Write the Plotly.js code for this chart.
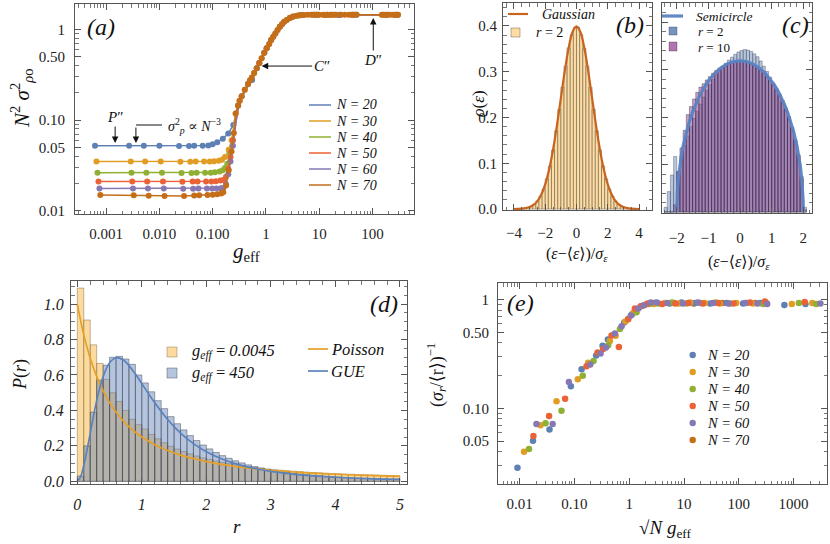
<!DOCTYPE html>
<html><head><meta charset="utf-8">
<script src="https://cdn.plot.ly/plotly-3.0.1.min.js"></script>
<style>html,body{margin:0;padding:0;background:#fff}#plot{width:830px;height:544px}</style>
</head><body><div id="plot"></div>
<script>
// ---------------- DATA ----------------
// (a) N^2 sigma^2 vs g_eff
const a20x = [0.00062,0.0027,0.0051,0.0100,0.0234,0.036,0.045,0.065,0.083,0.100,0.122,0.155,0.196,0.244,0.35,0.55,0.75,1.03,1.5,2.2,3.25,5.0,8.0,14,24,45,160,290];
const a20y = [0.052,0.052,0.052,0.052,0.0518,0.0518,0.052,0.052,0.0525,0.054,0.057,0.062,0.071,0.088,0.183,0.276,0.425,0.62,0.90,1.21,1.38,1.44,1.445,1.445,1.44,1.445,1.445,1.44];
const a30x = [0.00066,0.0029,0.0054,0.0106,0.0248,0.038,0.048,0.069,0.088,0.106,0.130,0.150,0.170,0.200,0.226,0.27,0.40,0.60,0.83,1.15,1.65,2.45,3.8,7.5,12,20,40,150,270];
const a30y = [0.0348,0.0348,0.0348,0.0348,0.0347,0.0347,0.0348,0.0348,0.035,0.0352,0.0356,0.0365,0.039,0.047,0.060,0.118,0.215,0.33,0.48,0.69,0.98,1.27,1.415,1.445,1.44,1.445,1.445,1.44,1.445];
const a40x = [0.00069,0.0030,0.0057,0.0112,0.026,0.040,0.050,0.072,0.092,0.110,0.135,0.155,0.170,0.188,0.211,0.237,0.30,0.46,0.67,0.93,1.25,1.82,2.8,4.3,9,15,22,50,170,300];
const a40y = [0.0262,0.0262,0.0262,0.0262,0.0261,0.0261,0.0262,0.0262,0.0263,0.0265,0.027,0.028,0.0295,0.033,0.043,0.060,0.145,0.25,0.372,0.55,0.76,1.07,1.33,1.43,1.445,1.44,1.445,1.445,1.44,1.445];
const a50x = [0.00072,0.0031,0.0059,0.0117,0.027,0.042,0.052,0.075,0.095,0.115,0.140,0.158,0.178,0.196,0.216,0.24,0.32,0.50,0.75,1.03,1.37,2.0,3.0,5.0,8.5,13,25,42,180,280];
const a50y = [0.021,0.021,0.021,0.021,0.0209,0.021,0.021,0.021,0.021,0.0212,0.0215,0.0218,0.0237,0.029,0.039,0.060,0.163,0.272,0.425,0.62,0.83,1.14,1.36,1.44,1.445,1.44,1.445,1.445,1.44,1.445];
const a60x = [0.00075,0.0032,0.0061,0.0121,0.028,0.043,0.054,0.078,0.098,0.118,0.142,0.158,0.178,0.196,0.216,0.24,0.30,0.46,0.67,0.93,1.25,1.82,2.8,4.3,9.5,17,23,48,190,260];
const a60y = [0.0176,0.0176,0.0176,0.0176,0.0175,0.0175,0.0176,0.0176,0.0176,0.0176,0.0177,0.0178,0.0196,0.0253,0.035,0.052,0.145,0.25,0.372,0.55,0.76,1.07,1.33,1.43,1.445,1.445,1.44,1.445,1.445,1.44];
const a70x = [0.00078,0.0033,0.0063,0.0125,0.029,0.045,0.056,0.080,0.100,0.122,0.145,0.158,0.178,0.200,0.226,0.25,
  0.27,0.30,0.32,0.35,0.40,0.46,0.50,0.54,0.60,0.67,0.75,0.83,0.93,1.03,1.15,1.25,1.37,1.5,1.65,1.82,2.0,2.2,2.45,2.8,3.25,3.8,4.3,5.0,6.0,7.0,8.0,9.0,10,12,14,16,18,20,25,30,36,42,50,150,175,200,230,260,300];
const a70y = [0.0149,0.0148,0.0146,0.0145,0.0145,0.0147,0.0148,0.0149,0.015,0.0152,0.0155,0.016,0.019,0.028,0.045,0.072,
  0.118,0.145,0.163,0.183,0.215,0.25,0.272,0.295,0.33,0.372,0.425,0.48,0.55,0.62,0.69,0.76,0.83,0.90,0.98,1.07,1.14,1.21,1.27,1.33,1.38,1.415,1.43,1.44,1.445,1.445,1.445,1.445,1.445,1.445,1.445,1.445,1.445,1.445,1.445,1.445,1.445,1.445,1.445,1.445,1.445,1.445,1.445,1.445,1.445];

// (b) Gaussian density histogram (r = 2)
const gCenters = [-3.9,-3.7,-3.5,-3.3,-3.1,-2.9,-2.7,-2.5,-2.3,-2.1,-1.9,-1.7,-1.5,-1.3,-1.1,-0.9,-0.7,-0.5,-0.3,-0.1,0.1,0.3,0.5,0.7,0.9,1.1,1.3,1.5,1.7,1.9,2.1,2.3,2.5,2.7,2.9,3.1,3.3,3.5,3.7,3.9];
const gHist = [0.0002,0.0004,0.0009,0.0018,0.0034,0.006,0.0105,0.0178,0.028,0.044,0.066,0.094,0.129,0.171,0.218,0.266,0.312,0.352,0.381,0.397,0.397,0.381,0.351,0.312,0.266,0.218,0.171,0.129,0.094,0.066,0.044,0.028,0.0178,0.0105,0.006,0.0034,0.0018,0.0009,0.0004,0.0002];
const gaussX = [-4,-3.75,-3.5,-3.25,-3,-2.75,-2.5,-2.25,-2,-1.75,-1.5,-1.25,-1,-0.75,-0.5,-0.25,0,0.25,0.5,0.75,1,1.25,1.5,1.75,2,2.25,2.5,2.75,3,3.25,3.5,3.75,4];
const gaussY = [0.0001,0.0004,0.0009,0.0020,0.0044,0.0091,0.0175,0.0317,0.0540,0.0863,0.1295,0.1826,0.2420,0.3011,0.3521,0.3867,0.3989,0.3867,0.3521,0.3011,0.2420,0.1826,0.1295,0.0863,0.0540,0.0317,0.0175,0.0091,0.0044,0.0020,0.0009,0.0004,0.0001];

// (c) semicircle histograms
const cCenters = [-2.35,-2.25,-2.15,-2.05,-1.95,-1.85,-1.75,-1.65,-1.55,-1.45,-1.35,-1.25,-1.15,-1.05,-0.95,-0.85,-0.75,-0.65,-0.55,-0.45,-0.35,-0.25,-0.15,-0.05,0.05,0.15,0.25,0.35,0.45,0.55,0.65,0.75,0.85,0.95,1.05,1.15,1.25,1.35,1.45,1.55,1.65,1.75,1.85,1.95,2.05];
const cR2 = [0.01,0.043,0.078,0.117,0.085,0.118,0.14,0.16,0.18,0.197,0.212,0.227,0.242,0.256,0.268,0.279,0.289,0.298,0.306,0.313,0.32,0.326,0.332,0.337,0.34,0.342,0.341,0.338,0.333,0.327,0.318,0.307,0.296,0.284,0.272,0.261,0.249,0.235,0.219,0.201,0.179,0.153,0.121,0.075,0.01];
const cR10 = [0,0,0,0.015,0.085,0.135,0.172,0.205,0.222,0.238,0.252,0.263,0.270,0.278,0.285,0.292,0.298,0.303,0.307,0.311,0.314,0.316,0.317,0.318,0.318,0.317,0.315,0.312,0.308,0.303,0.298,0.292,0.285,0.277,0.268,0.257,0.245,0.231,0.215,0.197,0.175,0.150,0.118,0.07,0.005];
const semiX = [-2,-1.995,-1.98,-1.95,-1.9,-1.85,-1.8,-1.7,-1.6,-1.5,-1.4,-1.3,-1.2,-1.1,-1,-0.8,-0.6,-0.4,-0.2,0,0.2,0.4,0.6,0.8,1,1.1,1.2,1.3,1.4,1.5,1.6,1.7,1.8,1.85,1.9,1.95,1.98,1.995,2];
const semiY = [0,0.0225,0.0449,0.0707,0.0994,0.121,0.1387,0.1677,0.191,0.2105,0.2273,0.2419,0.2546,0.2658,0.2757,0.2918,0.3037,0.3119,0.3167,0.3183,0.3167,0.3119,0.3037,0.2918,0.2757,0.2658,0.2546,0.2419,0.2273,0.2105,0.191,0.1677,0.1387,0.121,0.0994,0.0707,0.0449,0.0225,0];

// (d) P(r) histograms and curves
const dCenters = [0.05,0.15,0.25,0.35,0.45,0.55,0.65,0.75,0.85,0.95,1.05,1.15,1.25,1.35,1.45,1.55,1.65,1.75,1.85,1.95,2.05,2.15,2.25,2.35,2.45,2.55,2.65,2.75,2.85,2.95,3.05,3.15,3.25,3.35,3.45,3.55,3.65,3.75,3.85,3.95,4.05,4.15,4.25,4.35,4.45,4.55,4.65,4.75,4.85,4.95];
const dLow = [1.09,0.91,0.77,0.665,0.575,0.50,0.45,0.40,0.35,0.32,0.295,0.265,0.24,0.218,0.198,0.182,0.168,0.155,0.143,0.132,0.123,0.115,0.107,0.100,0.094,0.088,0.083,0.078,0.074,0.070,0.066,0.063,0.060,0.057,0.055,0.052,0.050,0.048,0.046,0.044,0.043,0.041,0.040,0.038,0.037,0.036,0.035,0.034,0.033,0.032];
const dHigh = [0.03,0.20,0.39,0.57,0.655,0.70,0.705,0.69,0.66,0.60,0.555,0.505,0.455,0.41,0.365,0.325,0.29,0.258,0.23,0.205,0.183,0.163,0.145,0.13,0.116,0.104,0.093,0.083,0.075,0.067,0.061,0.055,0.050,0.045,0.041,0.037,0.034,0.031,0.028,0.026,0.024,0.022,0.020,0.018,0.017,0.016,0.014,0.013,0.012,0.011];
const poissonR = [0,0.1,0.2,0.3,0.4,0.5,0.6,0.7,0.8,0.9,1,1.2,1.4,1.6,1.8,2,2.5,3,3.5,4,4.5,5];
const poissonP = [1,0.826,0.694,0.592,0.510,0.444,0.391,0.346,0.309,0.277,0.25,0.207,0.174,0.148,0.128,0.111,0.0816,0.0625,0.0494,0.04,0.0331,0.0278];
const gueR = [0,0.05,0.1,0.15,0.2,0.25,0.3,0.35,0.4,0.5,0.6,0.7,0.8,0.9,1,1.2,1.4,1.6,1.8,2,2.25,2.5,2.75,3,3.5,4,4.5,5];
const gueP = [0,0.025,0.089,0.176,0.272,0.367,0.455,0.530,0.591,0.669,0.697,0.687,0.653,0.605,0.551,0.443,0.349,0.272,0.213,0.167,0.125,0.0946,0.0725,0.0563,0.0352,0.0230,0.0156,0.0109];

// (e) (sigma_r/<r>)^-1 vs sqrt(N) g_eff
const e20x = [0.0091,0.0175,0.035,0.086,0.135,0.249,0.326,0.407,0.81,1.13,1.7,3.0,5.5,9,16,30,60,120,250,680,1650];
const e20y = [0.0285,0.0504,0.064,0.160,0.229,0.306,0.376,0.43,0.615,0.733,0.87,0.93,0.92,0.94,0.93,0.92,0.93,0.92,0.93,0.89,0.91];
const e30x = [0.012,0.024,0.047,0.115,0.178,0.443,0.564,0.85,1.2,2.0,2.8,4.5,8,13,24,45,90,180,320,930,2200];
const e30y = [0.040,0.0698,0.116,0.185,0.262,0.417,0.464,0.63,0.76,0.90,0.91,0.93,0.92,0.94,0.93,0.92,0.93,0.92,0.93,0.91,0.93];
const e40x = [0.0148,0.0296,0.058,0.142,0.223,0.413,0.676,0.95,1.36,2.3,3.4,6,11,20,38,70,140,280,1250,2600];
const e40y = [0.0423,0.0728,0.095,0.199,0.272,0.381,0.537,0.66,0.765,0.91,0.92,0.94,0.92,0.93,0.94,0.92,0.93,0.91,0.93,0.91];
const e50x = [0.0178,0.0344,0.0675,0.166,0.264,0.334,0.476,0.647,0.96,1.27,1.62,2.17,4,7,12,22,42,80,160,300,1600];
const e50y = [0.0557,0.085,0.1225,0.244,0.326,0.352,0.468,0.367,0.664,0.826,0.868,0.92,0.91,0.92,0.93,0.92,0.93,0.92,0.94,0.96,0.95];
const e60x = [0.0202,0.040,0.079,0.194,0.30,0.375,0.547,0.726,1.07,1.46,1.86,2.49,3.2,5,9.5,18,34,65,130,220,330,3100];
const e60y = [0.0718,0.0718,0.175,0.253,0.32,0.363,0.488,0.569,0.713,0.826,0.887,0.94,0.94,0.93,0.92,0.94,0.93,0.92,0.93,0.92,0.91,0.92];
const e70x = [2.9,6.5,15,50,200];
const e70y = [0.93,0.93,0.92,0.93,0.93];

// tick labels
const aTickX = [0.001,0.01,0.1,1,10,100];
const aTickXText = ['0.001','0.010','0.100','1','10','100'];
const aTickY = [0.01,0.05,0.1,0.5,1];
const aTickYText = ['0.01','0.05','0.10','0.50','1'];
const eTickX = [0.01,0.1,1,10,100,1000];
const eTickXText = ['0.01','0.10','1','10','100','1000'];
const eTickY = [0.05,0.1,0.5,1];
const eTickYText = ['0.05','0.10','0.50','1'];
const seriesNames = ['N = 20','N = 30','N = 40','N = 50','N = 60','N = 70'];
const seriesColors = ['#5E81B5','#E19C24','#8FB032','#EB6235','#8778B3','#C56E1A'];

// ---------------- BUILD ----------------
const W = 830, H = 544;
const F = 'Liberation Serif, DejaVu Serif, serif';
const FR = '#555';

function minorLog(lo, hi){ const v=[]; for(let d=lo; d<=hi; d++){ for(let k=2;k<=9;k++){ v.push(k*Math.pow(10,d)); } } return v; }

const aSeries = [[a20x,a20y],[a30x,a30y],[a40x,a40y],[a50x,a50y],[a60x,a60y],[a70x,a70y]];
const eSeries = [[e20x,e20y],[e30x,e30y],[e40x,e40y],[e50x,e50y],[e60x,e60y],[e70x,e70y]];

const traces = [];
aSeries.forEach((s,i)=>{
  traces.push({type:'scatter', mode:'lines+markers', x:s[0], y:s[1], xaxis:'x', yaxis:'y',
    name:seriesNames[i], line:{color:seriesColors[i], width:1.5}, marker:{color:seriesColors[i], size:6}});
});
traces.push({type:'bar', x:gCenters, y:gHist, width:0.2, xaxis:'x2', yaxis:'y2', name:'r = 2',
  marker:{color:'rgba(251,198,105,0.6)', line:{color:'rgba(80,70,50,0.6)', width:0.7}}});
traces.push({type:'scatter', mode:'lines', x:gaussX, y:gaussY, xaxis:'x2', yaxis:'y2', name:'Gaussian',
  line:{color:'#C8641E', width:2.2, shape:'spline'}});
traces.push({type:'bar', x:cCenters, y:cR2, width:0.1, xaxis:'x3', yaxis:'y3', name:'r = 2',
  marker:{color:'rgba(94,129,181,0.45)', line:{color:'rgba(40,40,60,0.55)', width:0.6}}});
traces.push({type:'bar', x:cCenters, y:cR10, width:0.1, xaxis:'x3', yaxis:'y3', name:'r = 10',
  marker:{color:'rgba(143,63,140,0.5)', line:{color:'rgba(40,30,50,0.6)', width:0.6}}});
traces.push({type:'scatter', mode:'lines', x:semiX, y:semiY, xaxis:'x3', yaxis:'y3', name:'Semicircle',
  line:{color:'rgba(90,130,195,0.95)', width:3.2}});
traces.push({type:'bar', x:dCenters, y:dLow, width:0.1, xaxis:'x4', yaxis:'y4', name:'g_eff = 0.0045',
  marker:{color:'rgba(251,190,80,0.55)', line:{color:'rgba(110,95,60,0.55)', width:0.8}}});
traces.push({type:'bar', x:dCenters, y:dHigh, width:0.1, xaxis:'x4', yaxis:'y4', name:'g_eff = 450',
  marker:{color:'rgba(100,132,185,0.47)', line:{color:'rgba(50,55,70,0.55)', width:0.8}}});
traces.push({type:'scatter', mode:'lines', x:poissonR, y:poissonP, xaxis:'x4', yaxis:'y4', name:'Poisson',
  line:{color:'#E6A028', width:1.7, shape:'spline'}});
traces.push({type:'scatter', mode:'lines', x:gueR, y:gueP, xaxis:'x4', yaxis:'y4', name:'GUE',
  line:{color:'#5A82BE', width:1.7, shape:'spline'}});
[5,0,1,2,3,4].forEach(i=>{
  traces.push({type:'scatter', mode:'markers', x:eSeries[i][0], y:eSeries[i][1], xaxis:'x5', yaxis:'y5',
    name:seriesNames[i], marker:{color:seriesColors[i], size:6.5}});
});

function axis(extra){
  return Object.assign({showline:true, linecolor:FR, linewidth:1, mirror:'allticks', ticks:'inside', ticklen:6,
    tickcolor:FR, tickwidth:1, showgrid:false, zeroline:false, fixedrange:true,
    tickfont:{family:F, size:15, color:'#222'}}, extra);
}
function minorLin(d){ return {dtick:d, ticks:'inside', ticklen:3.5, tickcolor:FR, tickwidth:0.8, showgrid:false}; }
function minorArr(v){ return {tickmode:'array', tickvals:v, ticks:'inside', ticklen:3.5, tickcolor:FR, tickwidth:0.8, showgrid:false}; }
const dom = (a,b)=>[a/W, b/W];
const domY = (bot,top)=>[1-bot/H, 1-top/H];

const layout = {
  width:W, height:H, margin:{l:0,r:0,t:0,b:0}, paper_bgcolor:'#fff', plot_bgcolor:'#fff',
  barmode:'overlay', showlegend:false, font:{family:F, color:'#111'},
  xaxis: axis({type:'log', domain:dom(75,414), range:[-3.583,2.777], anchor:'y', tickmode:'array', tickvals:aTickX, ticktext:aTickXText, ticklabelstandoff:6, minor:minorArr(minorLog(-4,2))}),
  yaxis: axis({type:'log', domain:domY(214,4), range:[-2.036,0.279], anchor:'x', tickmode:'array', tickvals:aTickY, ticktext:aTickYText, ticklabelstandoff:6, minor:minorArr([0.02,0.03,0.04,0.06,0.07,0.08,0.09,0.2,0.3,0.4,0.6,0.7,0.8,0.9,2,3,4,5,6,7,8,9])}),
  xaxis2: axis({domain:dom(503,652), range:[-4.70,4.83], anchor:'y2', dtick:2, tick0:0, ticklabelstandoff:9, minor:minorLin(0.5)}),
  yaxis2: axis({domain:domY(210,3), range:[-0.002,0.45], anchor:'x2', dtick:0.1, tickformat:'.1f', ticklabelstandoff:2, minor:minorLin(0.02)}),
  xaxis3: axis({domain:dom(662,812), range:[-2.467,2.275], anchor:'y3', dtick:1, tick0:0, ticklabelstandoff:11, minor:minorLin(0.2)}),
  yaxis3: axis({domain:domY(213,3), range:[-0.002,0.44], anchor:'x3', dtick:0.1, showticklabels:false, minor:minorLin(0.02)}),
  xaxis4: axis({domain:dom(71,407), range:[-0.098,5.11], anchor:'y4', dtick:1, tick0:0, ticklabelstandoff:6, tickfont:{family:F, size:16, color:'#222', style:'italic'}, minor:minorLin(0.2)}),
  yaxis4: axis({domain:domY(484,281), range:[-0.015,1.13], anchor:'x4', dtick:0.2, tickformat:'.1f', ticklabelstandoff:3, tickfont:{family:F, size:16, color:'#222', style:'italic'}, minor:minorLin(0.05)}),
  xaxis5: axis({type:'log', domain:dom(498,827), range:[-2.396,3.611], anchor:'y5', tickmode:'array', tickvals:eTickX, ticktext:eTickXText, ticklabelstandoff:6, minor:minorArr(minorLog(-3,3))}),
  yaxis5: axis({type:'log', domain:domY(484,283), range:[-1.695,0.152], anchor:'x5', tickmode:'array', tickvals:eTickY, ticktext:eTickYText, ticklabelstandoff:5, minor:minorArr([0.02,0.03,0.04,0.06,0.07,0.08,0.09,0.2,0.3,0.4,0.6,0.7,0.8,0.9])}),
  annotations: [], shapes: []
};

function txt(text, x, y, size, extra){
  return Object.assign({xref:'paper', yref:'paper', x:x/W, y:1-y/H, text:text, showarrow:false, borderpad:0,
    font:{family:F, size:size, color:'#111'}, xanchor:'center', yanchor:'middle'}, extra||{});
}
function hline(x0,x1,y,color,width){ return {type:'line', xref:'paper', yref:'paper', x0:x0/W, x1:x1/W, y0:1-y/H, y1:1-y/H, line:{color:color, width:width}}; }
function rect(x0,y0,x1,y1,fill,lc){ return {type:'rect', xref:'paper', yref:'paper', x0:x0/W, x1:x1/W, y0:1-y1/H, y1:1-y0/H, fillcolor:fill, line:{color:lc, width:0.8}}; }
function dot(cx,cy,r,color){ return {type:'circle', xref:'paper', yref:'paper', x0:(cx-r)/W, x1:(cx+r)/W, y0:1-(cy+r)/H, y1:1-(cy-r)/H, fillcolor:color, line:{width:0}}; }

const A = layout.annotations, S = layout.shapes;
// panel labels
A.push(txt('<i>(a)</i>', 101, 27, 24));
A.push(txt('<i>(b)</i>', 630, 25, 24));
A.push(txt('<i>(c)</i>', 795, 25, 24));
A.push(txt('<i>(d)</i>', 384, 304, 24));
A.push(txt('<i>(e)</i>', 520, 303, 24));
// axis titles
A.push(txt('<i>N</i><sup>2</sup> <i>σ</i><sup>2</sup><sub><i>ρ</i>o</sub>', 21, 98, 21, {textangle:-90}));
A.push(txt('<i>g</i><sub>eff</sub>', 246, 252, 21));
A.push(txt('<i>ϱ</i>(<i>ε</i>)', 478, 104, 17, {textangle:-90}));
A.push(txt('(<i>ε</i>−⟨<i>ε</i>⟩)/<i>σ</i><sub><i>ε</i></sub>', 577, 254, 16));
A.push(txt('(<i>ε</i>−⟨<i>ε</i>⟩)/<i>σ</i><sub><i>ε</i></sub>', 739, 262, 16));
A.push(txt('<i>P</i>(<i>r</i>)', 20, 375, 18, {textangle:-90}));
A.push(txt('<i>r</i>', 237, 526, 19));
A.push(txt('(<i>σ</i><sub><i>r</i></sub>/⟨r⟩)<sup>−1</sup>', 436, 375, 18, {textangle:-90}));
A.push(txt('√<i>N</i> <i>g</i><sub>eff</sub>', 665, 529, 19));

// (a) arrows and labels
A.push({xref:'x', yref:'y', x:-2.83, y:-1.254, ax:0, ay:-26, text:'<i>P</i>″', showarrow:true, arrowhead:2, arrowsize:1.3, arrowwidth:1, arrowcolor:'#111', font:{family:F, size:15, color:'#111'}});
A.push({xref:'x', yref:'y', x:-2.44, y:-1.254, ax:0, ay:-18, text:' ', showarrow:true, arrowhead:2, arrowsize:1.3, arrowwidth:1, arrowcolor:'#111', font:{family:F, size:2, color:'#111'}});
S.push(hline(136,162,125,'#111',1));
A.push(txt('<i>σ</i><sup>2</sup><sub><i>p</i></sub> ∝ <i>N</i><sup>−3</sup>', 194, 126, 14));
A.push({xref:'x', yref:'y', x:-0.081, y:-0.405, ax:60, ay:0, text:'<i>C</i>″', showarrow:true, arrowhead:2, arrowsize:1.3, arrowwidth:1, arrowcolor:'#111', font:{family:F, size:15, color:'#111'}});
A.push({xref:'x', yref:'y', x:2.013, y:0.125, ax:0, ay:42, text:'<i>D</i>″', showarrow:true, arrowhead:2, arrowsize:1.3, arrowwidth:1, arrowcolor:'#111', font:{family:F, size:15, color:'#111'}});

// (a) legend
const aRows = [105,121,137,153,169,185];
aRows.forEach((y,i)=>{ S.push(hline(309,331,y,seriesColors[i],1.5)); A.push(txt('<i>'+seriesNames[i]+'</i>', 335, y, 14, {xanchor:'left'})); });
// (e) legend
const eRows = [355,372,389,406,423,440];
eRows.forEach((y,i)=>{ S.push(dot(692.7,y,3.2,seriesColors[i])); A.push(txt('<i>'+seriesNames[i]+'</i>', 706, y, 14.5, {xanchor:'left'})); });
// (b) legend
S.push(hline(508,528,14,'#C8641E',2.2));
A.push(txt('<i>Gaussian</i>', 541, 14, 14, {xanchor:'left'}));
S.push(rect(511,28,520,37,'rgba(251,198,105,0.6)','rgba(80,70,50,0.5)'));
A.push(txt('<i>r</i> = 2', 535, 32.5, 14, {xanchor:'left'}));
// (c) legend
S.push(hline(662,683,16,'rgba(90,130,195,0.95)',3.2));
A.push(txt('<i>Semicircle</i>', 695, 16, 13.5, {xanchor:'left'}));
S.push(rect(669,27,677,35,'rgba(94,129,181,0.85)','rgba(40,40,60,0.4)'));
A.push(txt('<i>r</i> = 2', 697, 31.5, 13, {xanchor:'left'}));
S.push(rect(669,42,677,51,'rgba(160,80,155,0.8)','rgba(40,30,50,0.4)'));
A.push(txt('<i>r</i> = 10', 697, 47, 13, {xanchor:'left'}));
// (d) legend
S.push(rect(167,347,177,357,'rgba(251,190,80,0.55)','rgba(110,95,60,0.5)'));
A.push(txt('<i>g</i><sub><i>eff</i></sub> = <i>0.0045</i>', 191, 351, 16.5, {xanchor:'left'}));
S.push(rect(167,368,177,378,'rgba(100,132,185,0.47)','rgba(50,55,70,0.5)'));
A.push(txt('<i>g</i><sub><i>eff</i></sub> = <i>450</i>', 191, 373, 16.5, {xanchor:'left'}));
S.push(hline(308,328,349,'#E6A028',1.7));
A.push(txt('<i>Poisson</i>', 330, 349, 16.5, {xanchor:'left'}));
S.push(hline(308,328,371,'#5A82BE',1.7));
A.push(txt('<i>GUE</i>', 330, 371, 16.5, {xanchor:'left'}));

Plotly.newPlot('plot', traces, layout, {staticPlot:true, displayModeBar:false});
</script></body></html>
